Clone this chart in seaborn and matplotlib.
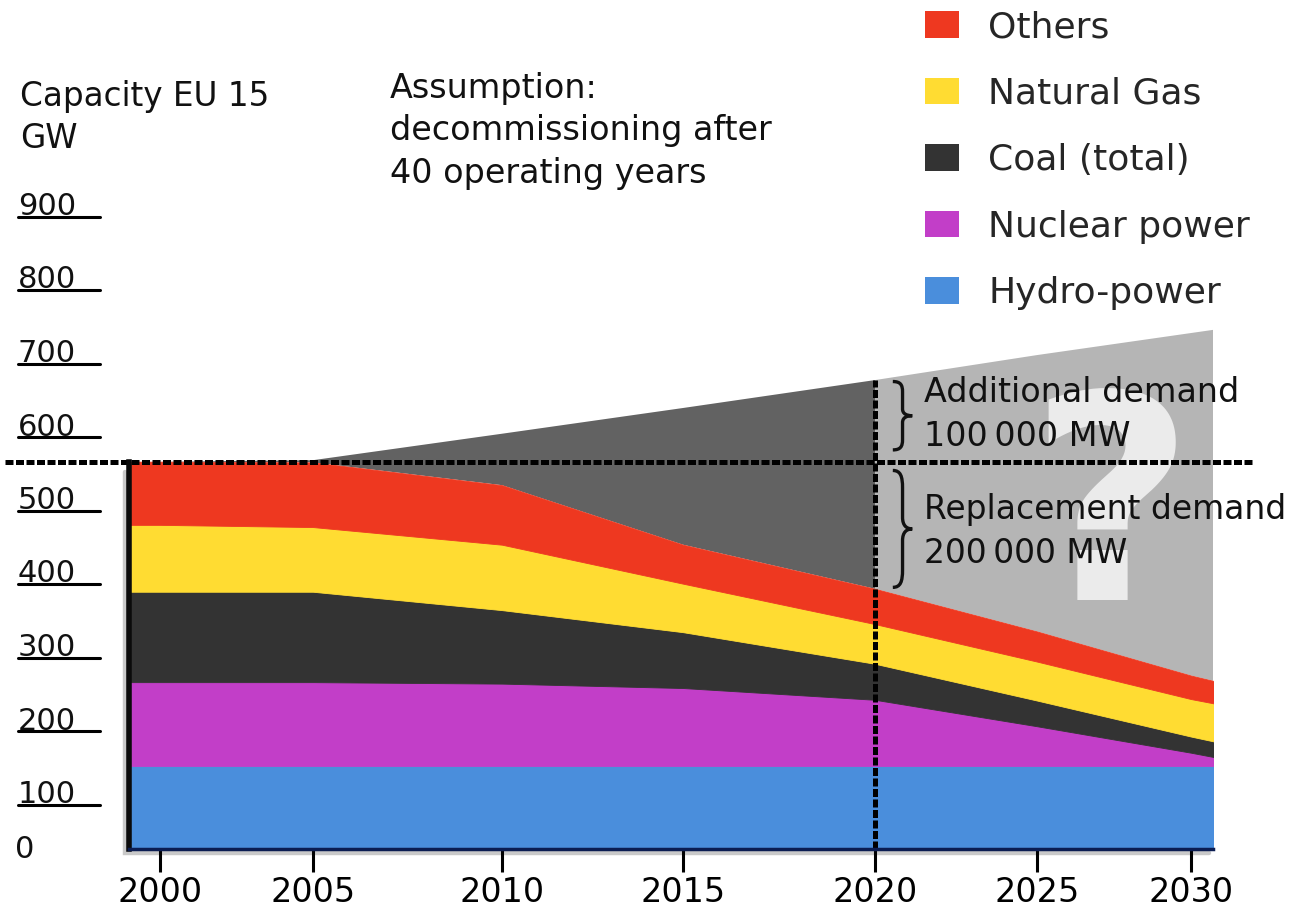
import numpy as np
import pandas as pd
import matplotlib
matplotlib.use("Agg")
import matplotlib.pyplot as plt
import matplotlib.transforms as mtransforms
from matplotlib.patches import Patch, PathPatch
from matplotlib.path import Path
from matplotlib.lines import Line2D
import seaborn as sns

# ---------------- data (GW, EU 15) ----------------
years = [1999, 2000, 2005, 2010, 2015, 2020, 2025, 2030, 2031]
hydro = [113, 113, 113, 113, 113, 113, 113, 113, 113]
nuclear = [114, 114, 114, 112, 106, 90, 54, 18, 10]
coal = [123, 123, 123, 100, 76, 49, 35, 22, 21]
gas = [91, 91, 88, 89, 66, 54, 53, 51, 52]
others = [86, 86, 88, 81, 53, 48, 41, 32, 30]
demand = [527, 527, 529, 565, 600, 638, 672, 702, 708]

series_names = ["Hydro-power", "Nuclear power", "Coal (total)", "Natural Gas", "Others"]
series_colors = ["#4a8edc", "#c23ec8", "#333333", "#ffdc32", "#ee3820"]

tick_years = [2000, 2005, 2010, 2015, 2020, 2025, 2030]
y_tick_values = [100, 200, 300, 400, 500, 600, 700, 800, 900]
marker_year = 2020

df = pd.DataFrame({"year": years, "Hydro-power": hydro, "Nuclear power": nuclear,
                   "Coal (total)": coal, "Natural Gas": gas, "Others": others,
                   "demand": demand})

# ---------------- style ----------------
sns.set_theme(style="white")
plt.rcParams["font.family"] = ["DejaVu Sans"]

W, H = 1290, 909
fig = plt.figure(figsize=(W / 100, H / 100), dpi=100)

# uneven year spacing of the original drawing
anchor_years = [1900, 2000, 2005, 2010, 2015, 2020, 2025, 2030, 2100]
anchor_pos = [160 - 100 * 30.6, 160, 313, 502, 683, 875, 1037, 1191, 1191 + 70 * 30.8]
fwd = lambda x: np.interp(x, anchor_years, anchor_pos)
inv = lambda p: np.interp(p, anchor_pos, anchor_years)

ax_r, ax_b, ax_t = 1213, 849, 114
ax_l = float(fwd(years[0]))
ax = fig.add_axes([ax_l / W, (H - ax_b) / H, (ax_r - ax_l) / W, (ax_b - ax_t) / H])
ax.set_xscale("function", functions=(fwd, inv))

x = df["year"].to_numpy()
cum = np.zeros(len(x))
for name, col in zip(series_names, series_colors):
    lower = cum.copy()
    cum = cum + df[name].to_numpy()
    ax.fill_between(x, lower, cum, facecolor=col, edgecolor=col, lw=0.6, zorder=3)
total = cum

dem = df["demand"].to_numpy()
left = x <= marker_year
right = x >= marker_year
ax.fill_between(x[left], total[left], dem[left], facecolor="#626262", edgecolor="none", lw=0, zorder=1)
ax.fill_between(x[right], total[right], dem[right], facecolor="#b5b5b5", edgecolor="none", lw=0, zorder=1)

ax.text(2027.4, 339, "?", fontsize=205, fontweight="bold", color="#ebebeb",
        ha="center", va="baseline", zorder=2)

ax.set_xlim(years[0], float(inv(ax_r)))
ax.set_ylim(0, 1000)

# dotted reference lines
dash = (0, (1.6, 0.5))
total_2000 = total[1]
span = ax_r - ax_l
ax.axhline(total_2000, xmin=(5 - ax_l) / span, xmax=(1253 - ax_l) / span,
           color="black", lw=3.6, linestyle=dash, clip_on=False, zorder=6)
dem_2020 = dem[list(years).index(marker_year)]
ax.plot([marker_year, marker_year], [0, dem_2020], color="black", lw=3.6, linestyle=dash, zorder=6)

# soft shadow along the left and bottom edge of the area block
shadow_tr = ax.transData + mtransforms.ScaledTranslation(-0.045, -0.04, fig.dpi_scale_trans)
ax.add_line(Line2D([years[0], years[0], float(inv(ax_r))], [total_2000 - 8, 0, 0],
                   transform=shadow_tr, color="#c4c4c4", lw=3.2, alpha=0.9,
                   clip_on=False, zorder=0.5, solid_joinstyle="miter"))


def brace(x0, w, y_bot, y_top):
    ym = (y_bot + y_top) / 2
    h = y_top - y_bot
    verts = [(x0, y_top),
             (x0 + 0.4 * w, y_top), (x0 + 0.5 * w, y_top - 0.05 * h), (x0 + 0.5 * w, y_top - 0.15 * h),
             (x0 + 0.5 * w, ym + 0.1 * h),
             (x0 + 0.5 * w, ym + 0.03 * h), (x0 + 0.7 * w, ym), (x0 + w, ym),
             (x0 + 0.7 * w, ym), (x0 + 0.5 * w, ym - 0.03 * h), (x0 + 0.5 * w, ym - 0.1 * h),
             (x0 + 0.5 * w, y_bot + 0.15 * h),
             (x0 + 0.5 * w, y_bot + 0.05 * h), (x0 + 0.4 * w, y_bot), (x0, y_bot)]
    codes = [Path.MOVETO] + [Path.CURVE4] * 3 + [Path.LINETO] + [Path.CURVE4] * 6 + \
            [Path.LINETO] + [Path.CURVE4] * 3
    ax.add_patch(PathPatch(Path(verts, codes), facecolor="none", edgecolor="#111111", lw=2.4, zorder=7))


brace(2020.55, 0.6, 543, 636)
brace(2020.55, 0.6, 356, 515)
ax.text(2021.5, 591, "Additional demand\n100\u2009000 MW", fontsize=24, va="center", ha="left",
        linespacing=1.4, color="#111111", zorder=7)
ax.text(2021.5, 432, "Replacement demand\n200\u2009000 MW", fontsize=23.7, va="center", ha="left",
        linespacing=1.4, color="#111111", zorder=7)

# axes decoration
ax.set_xticks(tick_years)
ax.set_xticklabels([str(t) for t in tick_years], fontsize=24, color="black")
ax.tick_params(axis="x", bottom=True, length=16.5, width=2.2, color="black", pad=3, direction="out")
ax.set_yticks([])
for s in ["top", "right"]:
    ax.spines[s].set_visible(False)
ax.spines["left"].set_bounds(0, total_2000)
ax.spines["left"].set_color("#0a0a0a")
ax.spines["left"].set_linewidth(4)
ax.spines["left"].set_zorder(8)
ax.spines["bottom"].set_color("#0b1d52")
ax.spines["bottom"].set_linewidth(2.5)
ax.spines["bottom"].set_zorder(8)
ax.set_facecolor("none")

# y labels with underline
blend = mtransforms.blended_transform_factory(fig.transFigure, ax.transData)
lbl_tr = blend + mtransforms.ScaledTranslation(0, -0.19, fig.dpi_scale_trans)
ul_tr = blend + mtransforms.ScaledTranslation(0, -0.29, fig.dpi_scale_trans)
for v in y_tick_values:
    fig.text(18 / W, v, str(v), transform=lbl_tr, fontsize=22, va="center", ha="left", color="#111111")
    fig.add_artist(Line2D([18 / W, 100 / W], [v, v], transform=ul_tr, color="black", lw=2.2))
fig.text(15 / W, 0, "0", transform=blend, fontsize=22, va="center", ha="left", color="#111111")

# titles / notes
fig.text(20 / W, 1 - 80 / H, "Capacity EU 15\nGW", fontsize=23.5, va="top", ha="left",
         linespacing=1.36, color="#111111")
fig.text(390 / W, 1 - 72 / H, "Assumption:\ndecommissioning after\n40 operating years",
         fontsize=24, va="top", ha="left", linespacing=1.36, color="#111111")

# legend (top to bottom: Others ... Hydro)
handles = [Patch(facecolor=c, edgecolor="none", label=n)
           for n, c in zip(series_names[::-1], series_colors[::-1])]
fig.legend(handles=handles, loc="upper left", bbox_to_anchor=(925 / W, 1 - 10 / H),
           frameon=False, fontsize=26, handlelength=0.95, handleheight=0.75,
           handletextpad=0.8, labelspacing=0.9, borderpad=0, borderaxespad=0)

fig.savefig("out.png", dpi=100)
